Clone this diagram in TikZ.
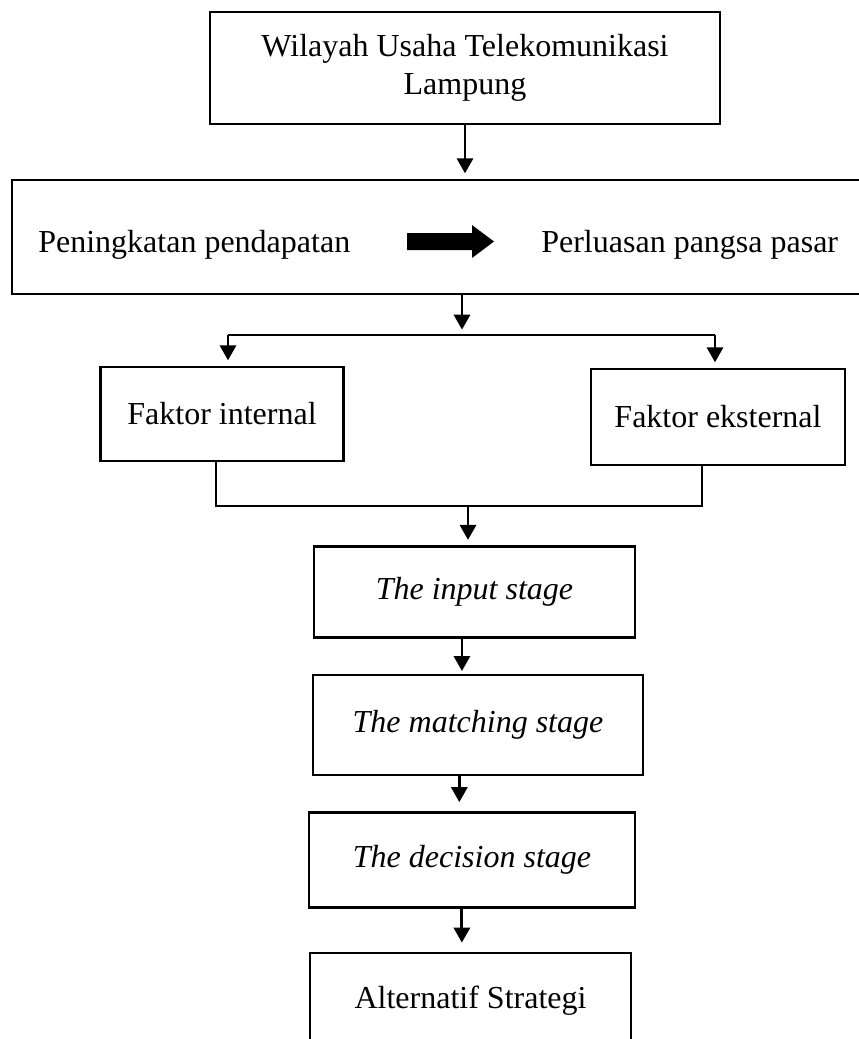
\documentclass[tikz,border=0pt]{standalone}
\usepackage{fontspec}
\setmainfont{Liberation Serif}
\usetikzlibrary{positioning,arrows.meta,calc}

\tikzset{
  box/.style={draw, line width=1pt, inner sep=0pt, align=center,
    font=\fontsize{12pt}{14.4pt}\selectfont},
  conn/.style={line width=0.8pt},
  arr/.style={line width=1.1pt, -{Triangle[length=5.6pt,width=6pt]}, shorten >=2pt},
}

\begin{document}
\begin{tikzpicture}[x=0.375pt, y=-0.375pt]
\useasboundingbox (0,0) rectangle (858,1039);

% boxes
\node[box, minimum width=191.25pt, minimum height=42pt] (wilayah) at (465,68)
  {Wilayah Usaha Telekomunikasi\\Lampung};
\node[box, minimum width=321.75pt, minimum height=42.75pt] (tujuan) at (441,237) {};
\node[box, draw=none, anchor=base west] (pendapatan) at (37,252) {Peningkatan pendapatan};
\node[box, draw=none, anchor=base west] (pasar) at (540,252) {Perluasan pangsa pasar};
\fill (407,233) -- (472,233) -- (472,225) -- (494,241.5) -- (472,258) -- (472,250) -- (407,250) -- cycle;

\node[box, minimum width=91.125pt, minimum height=35.25pt] (internal) at (222,414) {Faktor internal};
\node[box, minimum width=95.25pt, minimum height=36pt] (eksternal) at (718,417) {Faktor eksternal};

\node[box, minimum width=120.4pt, minimum height=34.1pt] (input) at (474.5,592) {\itshape The input stage};
\node[box, minimum width=123.75pt, minimum height=37.5pt] (matching) at (478,725) {\itshape The matching stage};
\node[box, minimum width=122.25pt, minimum height=35.6pt] (decision) at (472,860) {\itshape The decision stage};
\node[box, minimum width=120.4pt, minimum height=36pt] (strategi) at (470.5,1001) {Alternatif Strategi};

% connectors
\coordinate (split) at (462,335);
\coordinate (splitL) at (228,335);
\coordinate (splitR) at (715,335);
\coordinate (mergeL) at (216,506);
\coordinate (mergeR) at (702,506);
\coordinate (merge) at (468,506);

\draw[arr] (wilayah.south) -- (wilayah.south |- tujuan.north);
\draw[arr] (split |- tujuan.south) -- (split);
\draw[conn] (splitL) -- (splitR);
\draw[arr] (splitL) -- (splitL |- internal.north);
\draw[arr] (splitR) -- (splitR |- eksternal.north);
\draw[conn] (mergeL |- internal.south) -- (mergeL) -- (mergeR) -- (mergeR |- eksternal.south);
\draw[arr] (merge) -- (merge |- input.north);
\draw[arr, shorten >=1pt] ([xshift=-4.7pt]input.south) -- ([xshift=-4.7pt]input.south |- matching.north);
\draw[arr, shorten >=3.4pt] ([xshift=-7pt]matching.south) -- ([xshift=-7pt]matching.south |- decision.north);
\draw[arr, shorten >=3.4pt] ([xshift=-3.8pt]decision.south) -- ([xshift=-3.8pt]decision.south |- strategi.north);
\end{tikzpicture}
\end{document}
